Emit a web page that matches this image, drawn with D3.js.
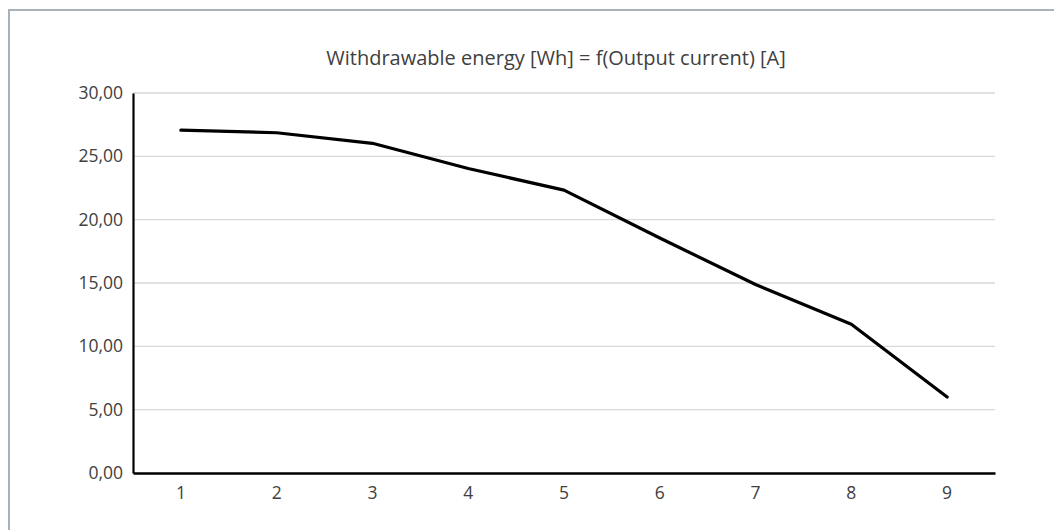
<!DOCTYPE html>
<html>
<head>
<meta charset="utf-8">
<script src="https://cdn.jsdelivr.net/npm/d3@7/dist/d3.min.js"></script>
<style>
  html, body { margin: 0; padding: 0; background: #fff; }
  svg { display: block; }
  text { font-family: "Open Sans", sans-serif; fill: #404040; }
</style>
</head>
<body>
<svg id="chart" width="1054" height="530"></svg>
<script>
const categories = ["1", "2", "3", "4", "5", "6", "7", "8", "9"];
const energyWh = [27.07, 26.86, 26.03, 24.04, 22.33, 18.55, 14.88, 11.75, 6.0];
const yTicks = [0, 5, 10, 15, 20, 25, 30];
const titleText = "Withdrawable energy [Wh] = f(Output current) [A]";

const svg = d3.select("#chart");
const W = 1054, H = 530;
const margin = { left: 133, right: 59, top: 93, bottom: 57 };
const plotW = W - margin.left - margin.right;
const plotH = H - margin.top - margin.bottom;

// outer frame
svg.append("rect")
  .attr("x", 9).attr("y", 10)
  .attr("width", 1100).attr("height", 600)
  .attr("fill", "none")
  .attr("stroke", "#a9b2ba")
  .attr("stroke-width", 2);

const g = svg.append("g").attr("transform", `translate(${margin.left},${margin.top})`);

const x = d3.scaleBand().domain(categories).range([0, plotW]);
const y = d3.scaleLinear().domain([0, 30]).range([plotH, 0]);

// gridlines
g.append("g")
  .selectAll("line")
  .data(yTicks.filter(d => d > 0))
  .join("line")
  .attr("x1", 0).attr("x2", plotW)
  .attr("y1", d => y(d)).attr("y2", d => y(d))
  .attr("stroke", "#d9d9d9")
  .attr("stroke-width", 1.3);

// y axis
const yAxis = d3.axisLeft(y)
  .tickValues(yTicks)
  .tickSize(0)
  .tickPadding(10)
  .tickFormat(d => d3.format(".2f")(d).replace(".", ","));
const ya = g.append("g").call(yAxis);
ya.attr("font-size", 17.5).attr("font-family", "Open Sans, sans-serif");
ya.select(".domain").attr("stroke", "#000").attr("stroke-width", 2.2);
ya.selectAll("text").attr("fill", "#404040");

// x axis
const xAxis = d3.axisBottom(x).tickSize(0).tickPadding(14);
const xa = g.append("g").attr("transform", `translate(0,${plotH})`).call(xAxis);
xa.attr("font-size", 17.5).attr("font-family", "Open Sans, sans-serif");
xa.select(".domain").attr("stroke", "#000").attr("stroke-width", 2.4);
xa.selectAll("text").attr("fill", "#404040");

// line
const line = d3.line()
  .x((d, i) => x(categories[i]) + x.bandwidth() / 2)
  .y(d => y(d));
g.append("path")
  .datum(energyWh)
  .attr("d", line)
  .attr("fill", "none")
  .attr("stroke", "#000")
  .attr("stroke-width", 3.2)
  .attr("stroke-linejoin", "round")
  .attr("stroke-linecap", "round");

// title
svg.append("text")
  .attr("x", 556)
  .attr("y", 65)
  .attr("text-anchor", "middle")
  .attr("font-size", 20)
  .attr("fill", "#404040")
  .text(titleText);
</script>
</body>
</html>
